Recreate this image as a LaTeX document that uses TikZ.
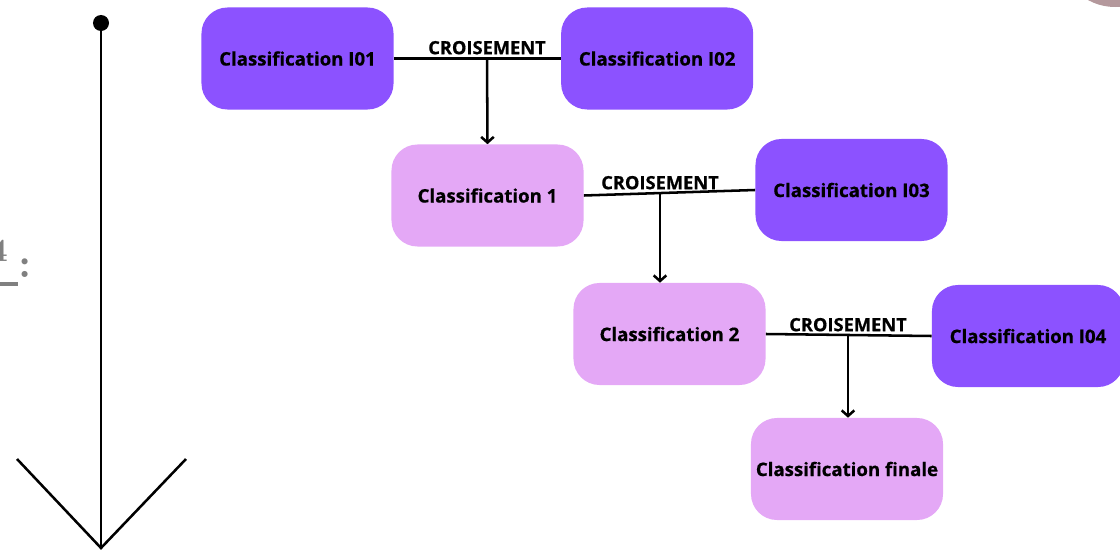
\documentclass[tikz,border=0pt]{standalone}
\usepackage{fontspec}
\newfontfamily\opensans{Open Sans}[BoldFeatures={FakeBold=0.6}]
\usetikzlibrary{positioning,arrows.meta}

\definecolor{violetfonce}{HTML}{8C52FF}
\definecolor{violetclair}{HTML}{E4A8F6}
\definecolor{roseterne}{HTML}{B4989C}

\tikzset{
    classbox/.style={rectangle, rounded corners=0.65cm, minimum width=4.8cm, minimum height=2.55cm,
        inner sep=0pt, font=\opensans\bfseries\fontsize{13.25}{16}\selectfont},
    entree/.style={classbox, fill=violetfonce},
    resultat/.style={classbox, fill=violetclair},
    trait/.style={line width=1.8pt},
    descente/.style={line width=1.8pt, -{Straight Barb[length=4pt,width=9pt]}},
    croix/.style={font=\opensans\bfseries\fontsize{13}{15}\selectfont, inner sep=1pt},
}

\begin{document}
\begin{tikzpicture}[x=0.025cm, y=-0.025cm]
    \useasboundingbox (0,0) rectangle (1120,552);

    % Decor cut by the page
    \fill[roseterne] (1115,-48.6) circle[radius=55.6];
    \node[anchor=base east, inner sep=0pt, text=gray, font=\bfseries\fontsize{23}{26}\selectfont] (chiffre) at (8,261) {4};
    \node[anchor=base, inner sep=0pt, text=gray, font=\bfseries\fontsize{30}{32}\selectfont] (deuxpoints) at (25,277) {:};
    \fill[gray] (-10,282) rectangle (18,286);

    % Time axis
    \node[circle, fill=black, inner sep=0pt, minimum size=0.4cm] (haut) at (101,23) {};
    \coordinate (bas) at (101,548);
    \coordinate (gauche) at (17,459);
    \coordinate (droite) at (186,459);
    \draw[trait] (haut) -- (bas);
    \draw[trait] (gauche) -- (bas) -- (droite);

    % Classifications
    \node[entree] (i01) at (297.5,58.5) {Classification I01};
    \node[entree, right=4.175cm of i01] (i02) {Classification I02};
    \node[resultat] (c1) at (487.5,195.5) {Classification 1};
    \node[entree] (i03) at (851.5,190) {Classification I03};
    \node[resultat] (c2) at (669.5,334) {Classification 2};
    \node[entree] (i04) at (1028,336) {Classification I04};
    \node[resultat] (final) at (847,469) {Classification finale};

    % Crossings
    \coordinate (j1) at (487,57.5);
    \coordinate (j2) at (660,192.5);
    \coordinate (j3) at (848,334.5);

    \draw[trait] (i01.east) -- (i02.west);
    \node[croix, above=1pt of j1] (x1) {CROISEMENT};
    \draw[descente] (j1) -- (c1.north);

    \draw[trait] (c1.east) -- (i03.west);
    \node[croix, above=1pt of j2] (x2) {CROISEMENT};
    \draw[descente] (j2) -- (j2 |- c2.north);

    \draw[trait] (c2.east) -- (i04.west);
    \node[croix, above=1pt of j3] (x3) {CROISEMENT};
    \draw[descente] (j3) -- (j3 |- final.north);
\end{tikzpicture}
\end{document}
